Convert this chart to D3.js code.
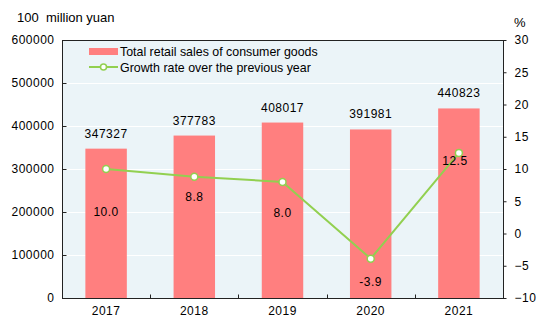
<!DOCTYPE html>
<html>
<head>
<meta charset="utf-8">
<script src="https://cdn.jsdelivr.net/npm/d3@7"></script>
<style>
  body { margin: 0; background: #fff; }
  text { font-family: Arial, "Liberation Sans", sans-serif; font-size: 12px; fill: #000; letter-spacing: 0.5px; white-space: pre; }
  .plain { letter-spacing: 0; }
</style>
</head>
<body>
<div id="graph"></div>
<script>
var years = ["2017", "2018", "2019", "2020", "2021"];
var sales = [347327, 377783, 408017, 391981, 440823];
var growth = [10.0, 8.8, 8.0, -3.9, 12.5];
var leftTicks = [0, 100000, 200000, 300000, 400000, 500000, 600000];
var rightTicks = [-10, -5, 0, 5, 10, 15, 20, 25, 30];

var W = 540, H = 331;
var margin = {top: 40, right: 37, bottom: 33, left: 62},
  width = W - margin.left - margin.right,
  height = H - margin.top - margin.bottom;

var svg = d3.select("#graph")
  .append("svg")
  .attr("width", W)
  .attr("height", H);

var g = svg.append("g")
  .attr("transform", "translate(" + margin.left + "," + margin.top + ")");

var x = d3.scaleBand().domain(years).range([0, width]).paddingInner(0.53).paddingOuter(0.265);
var band = d3.scaleBand().domain(years).range([0, width]);
var y = d3.scaleLinear().domain([0, 600000]).range([height, 0]);
var y2 = d3.scaleLinear().domain([-10, 30]).range([height, 0]);

// plot background
g.append("rect")
  .attr("width", width)
  .attr("height", height)
  .attr("fill", "#ebf4f8");

// white gridlines
g.selectAll(".grid")
  .data(leftTicks.slice(1, -1))
  .enter().append("line")
  .attr("x1", 0).attr("x2", width)
  .attr("y1", function(d){ return y(d) + 0.5; })
  .attr("y2", function(d){ return y(d) + 0.5; })
  .attr("stroke", "#fff")
  .attr("stroke-width", 1);

// bars
g.selectAll(".bar")
  .data(sales)
  .enter().append("rect")
  .attr("x", function(d, i){ return x(years[i]); })
  .attr("y", function(d){ return y(d); })
  .attr("width", x.bandwidth())
  .attr("height", function(d){ return height - y(d); })
  .attr("fill", "#ff7f7f");

// bar value labels
g.selectAll(".barlabel")
  .data(sales)
  .enter().append("text")
  .attr("x", function(d, i){ return x(years[i]) + x.bandwidth() / 2; })
  .attr("y", function(d){ return y(d) - 11; })
  .attr("text-anchor", "middle")
  .text(function(d){ return d; });

// growth line
var line = d3.line()
  .x(function(d, i){ return x(years[i]) + x.bandwidth() / 2; })
  .y(function(d){ return y2(d); });

g.append("path")
  .datum(growth)
  .attr("d", line)
  .attr("fill", "none")
  .attr("stroke", "#92d050")
  .attr("stroke-width", 2);

g.selectAll(".dot")
  .data(growth)
  .enter().append("circle")
  .attr("cx", function(d, i){ return x(years[i]) + x.bandwidth() / 2; })
  .attr("cy", function(d){ return y2(d); })
  .attr("r", 3.5)
  .attr("fill", "#fff")
  .attr("stroke", "#92d050")
  .attr("stroke-width", 1.5);

// growth labels sit in the bars, nudged clear of the line
var labelShift = [[0, 47], [0, 24], [0, 35], [0, 27], [-4, 12]];
g.selectAll(".growlabel")
  .data(growth)
  .enter().append("text")
  .attr("x", function(d, i){ return x(years[i]) + x.bandwidth() / 2 + labelShift[i][0]; })
  .attr("y", function(d, i){ return y2(d) + labelShift[i][1]; })
  .attr("text-anchor", "middle")
  .text(function(d){ return d.toFixed(1); });

// frame
g.append("rect")
  .attr("x", 0.5).attr("y", 0.5)
  .attr("width", width).attr("height", height)
  .attr("fill", "none")
  .attr("stroke", "#222")
  .attr("stroke-width", 1);

// left axis
var yAxis = d3.axisLeft(y).tickValues(leftTicks).tickFormat(d3.format("d")).tickSize(-4).tickPadding(8);
var ga = g.append("g").attr("transform", "translate(0.5,0)").call(yAxis);
ga.select(".domain").remove();

// right axis
var y2Axis = d3.axisRight(y2).tickValues(rightTicks).tickSize(3).tickPadding(8);
var gr = g.append("g").attr("transform", "translate(" + (width + 0.5) + ",0)").call(y2Axis);
gr.select(".domain").remove();
gr.selectAll(".tick text").attr("text-anchor", "start");

// bottom axis: category dividers tick upward
var gb = g.append("g").attr("transform", "translate(0," + (height + 0.5) + ")");
gb.selectAll(".div")
  .data(years.slice(1))
  .enter().append("line")
  .attr("x1", function(d){ return Math.round(band(d)) + 0.5; })
  .attr("x2", function(d){ return Math.round(band(d)) + 0.5; })
  .attr("y1", 0).attr("y2", -4)
  .attr("stroke", "#222");
gb.selectAll(".yr")
  .data(years)
  .enter().append("text")
  .attr("x", function(d){ return band(d) + band.bandwidth() / 2; })
  .attr("y", 16)
  .attr("text-anchor", "middle")
  .text(function(d){ return d; });

svg.selectAll(".tick text")
  .style("font-size", "12px")
  .style("font-family", "Arial, 'Liberation Sans', sans-serif")
  .style("letter-spacing", "0.5px")
  .attr("fill", "#000");
svg.selectAll(".tick line").attr("stroke", "#222");

// unit titles
svg.append("text").attr("class", "plain").attr("x", 17).attr("y", 22).style("font-size", "13px").text("100  million yuan");
svg.append("text").attr("class", "plain").attr("x", 514).attr("y", 27).style("font-size", "13px").text("%");

// legend
var lg = svg.append("g").attr("transform", "translate(89,51)").style("font-size", "12.4px");
lg.append("rect").attr("x", 0).attr("y", -3).attr("width", 29).attr("height", 7).attr("fill", "#ff7f7f");
lg.append("text").attr("class", "plain").attr("x", 31).attr("y", 4.5).style("font-size", "12.4px").text("Total retail sales of consumer goods");
lg.append("line").attr("x1", 0).attr("x2", 29).attr("y1", 16).attr("y2", 16).attr("stroke", "#92d050").attr("stroke-width", 2);
lg.append("circle").attr("cx", 14.5).attr("cy", 16).attr("r", 3).attr("fill", "#fff").attr("stroke", "#92d050").attr("stroke-width", 1.5);
lg.append("text").attr("class", "plain").attr("x", 31).attr("y", 20.5).style("font-size", "12.4px").text("Growth rate over the previous year");
</script>
</body>
</html>
